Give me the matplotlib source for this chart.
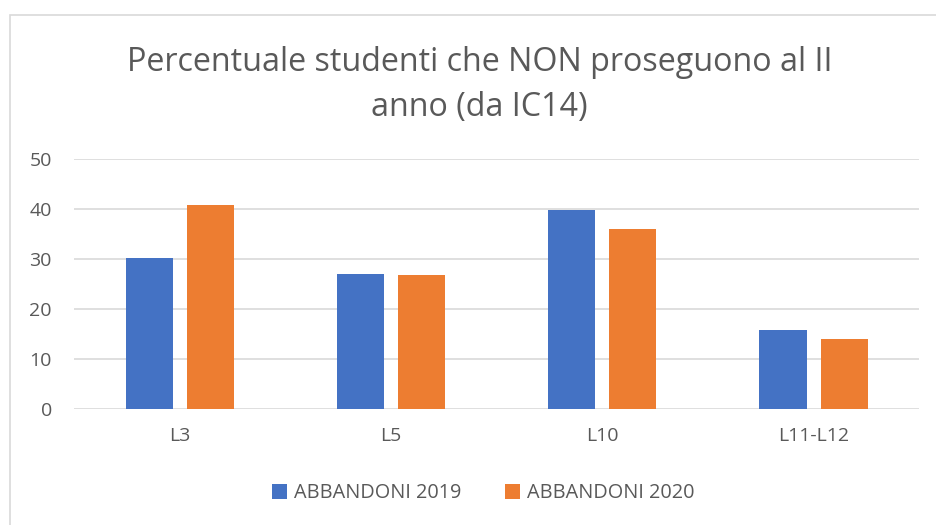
import numpy as np
import matplotlib
matplotlib.use('Agg')
import matplotlib.pyplot as plt
from matplotlib.patches import Rectangle

CATEGORIES = ['L3', 'L5', 'L10', 'L11-L12']
ABB_2019 = [30.3, 27.1, 39.8, 15.9]
ABB_2020 = [40.8, 26.9, 36.1, 14.1]
SERIES = ['ABBANDONI 2019', 'ABBANDONI 2020']
COLORS = ['#4472C4', '#ED7D31']
TXT = '#595959'

plt.rcParams.update({'font.family': ['Open Sans', 'DejaVu Sans']})

fig = plt.figure(figsize=(9.37, 5.25), dpi=100)
ax = fig.add_axes([0.079, 0.221, 0.902, 0.476])

# chart border (top and left edges visible, rest cut off)
fig.patches.append(Rectangle((0.0112, -0.2), 1.2, 1.171, transform=fig.transFigure,
                             fill=False, edgecolor='#D9D9D9', linewidth=1.2))

x = np.arange(len(CATEGORIES))
w = 0.223
gap = 0.066
ax.bar(x - (w + gap) / 2, ABB_2019, w, color=COLORS[0], label=SERIES[0], zorder=3)
ax.bar(x + (w + gap) / 2, ABB_2020, w, color=COLORS[1], label=SERIES[1], zorder=3)

ax.set_xlim(-0.5, len(CATEGORIES) - 0.5)
ax.set_ylim(0, 50)
ax.set_yticks(range(0, 51, 10))
ax.yaxis.grid(True, color='#D9D9D9', linewidth=1.2, zorder=0)
ax.set_axisbelow(True)
for s in ax.spines.values():
    s.set_visible(False)
ax.tick_params(length=0, labelsize=14, colors=TXT)
ax.tick_params(axis='y', pad=16)
ax.tick_params(axis='x', pad=13)
ax.set_xticks(x)
ax.set_xticklabels(CATEGORIES)

fig.text(0.512, 0.838, 'Percentuale studenti che NON proseguono al II\nanno (da IC14)',
         ha='center', va='center', fontsize=23.2, color=TXT, linespacing=1.45)

fig.legend(loc='center', bbox_to_anchor=(0.516, 0.06), ncol=2, frameon=False,
           fontsize=14.3, labelcolor=TXT, handlelength=0.75, handleheight=0.75,
           handletextpad=0.35, columnspacing=2.2)

fig.savefig('out.png', dpi=100)
